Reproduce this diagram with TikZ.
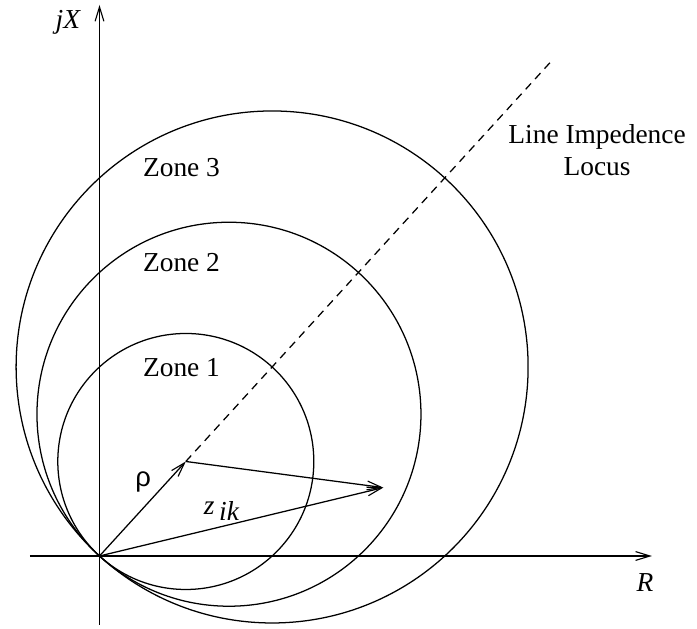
\documentclass[tikz,border=0pt]{standalone}
\usepackage{fontspec}
\setmainfont{Liberation Serif}
\newfontfamily\rhofont{Liberation Sans}
\usetikzlibrary{positioning, arrows.meta, calc}

\begin{document}
\begin{tikzpicture}[line width=0.9pt, font=\fontsize{19.5}{23}\selectfont,
    tip/.style={-{Straight Barb[length=0.36cm, width=0.22cm, line width=0.8pt]}},
    locus/.style={dash pattern=on 0.2cm off 0.15cm}]
  \useasboundingbox (-2.4875,-1.825) rectangle (14.9375,13.9);
  \coordinate (O) at (0,0);
  \coordinate (xstart) at (-1.74,0);
  \coordinate (xend) at (13.81,0);
  \coordinate (ystart) at (0,-1.725);
  \coordinate (yend) at (0,13.775);
  \coordinate (rho) at (47.6:3.2);
  \coordinate (locend) at (47.6:16.7);
  \coordinate (zik) at (7.095,1.71);
  \draw[tip] (xstart) -- (xend);
  \draw[tip] (ystart) -- (yend);
  \foreach \r/\n/\ly in {3.2/1/4.7, 4.8/2/7.325, 6.4/3/9.7} {
    \draw (47.6:\r) circle (\r);
    \node (zone\n) at (2.05,\ly) {Zone \n};
  }
  \draw[locus] (rho) -- (locend);
  \draw[tip] (O) -- (rho);
  \draw[tip] (rho) -- (zik);
  \draw[tip] (O) -- (zik);
  \node (jx) at (-0.79,13.35) {\itshape jX};
  \node (rlab) at (13.64,-0.675) {\itshape R};
  \node (rholab) at (1.09,1.85) {\rhofont ρ};
  \node (ziklab) at (3.05,1.12) {\itshape z\,\raisebox{-0.5ex}{ik}};
  \node[align=center] (loclab) at (12.44,10.15) {Line Impedence\\Locus};
\end{tikzpicture}
\end{document}
